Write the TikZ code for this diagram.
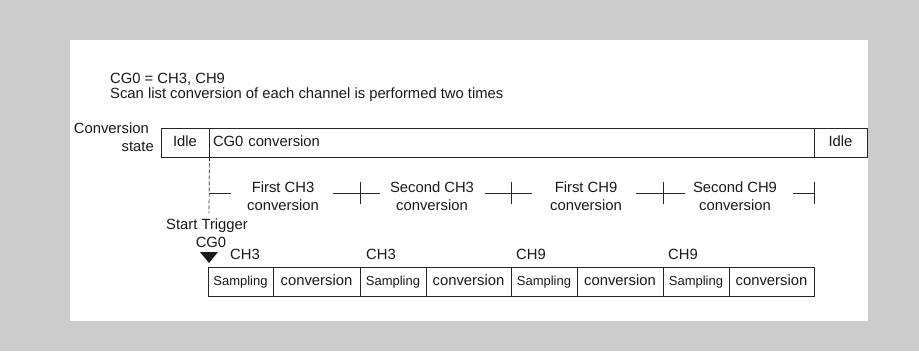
\documentclass[tikz,border=0pt]{standalone}
\usepackage{fontspec}
\setmainfont{Liberation Sans}
\begin{document}
\begin{tikzpicture}[x=1pt,y=-1pt,
  txt/.style={inner sep=0pt, text=black!90, font=\fontsize{14.8}{18}\selectfont},
  cell/.style={draw=black!85, line width=0.9pt, inner sep=0pt, minimum height=29pt,
     text height=10.5pt, text depth=3pt, text=black!90, font=\fontsize{14.8}{18}\selectfont},
  sampcell/.style={cell, font=\fontsize{13}{15}\selectfont},
  ln/.style={draw=black!85, line width=0.7pt}]
\useasboundingbox (0,0) rectangle (919,351);
\fill[gray!40] (0,0) rectangle (919,351);
\fill[white] (70,40) rectangle (868,321);
% header
\node[txt, anchor=base west] (h1) at (110,83) {CG0 = CH3, CH9};
\node[txt, anchor=base west] (h2) at (110,98) {Scan list conversion of each channel is performed two times};
% conversion state bar
\node[txt, anchor=base east] (cs1) at (149,133) {Conversion};
\node[txt, anchor=base east] (cs2) at (154,151) {state};
\node[cell, minimum width=48pt] (idleA) at (185,142.5) {Idle};
\node[cell, text width=597pt, inner xsep=4pt, align=left] (cgc) at (511.5,142.5) {CG0 conversion};
\node[cell, minimum width=53pt] (idleB) at (840.5,142.5) {Idle};
% dashed trigger line
\coordinate (dEnd) at (209,213);
\draw[draw=black!85, line width=0.7pt, dash pattern=on 4pt off 2pt] (idleA.south east) -- (dEnd);
% ticks
\coordinate (t0) at (209,193);
\coordinate (t1) at (360,193);
\coordinate (t2) at (511,193);
\coordinate (t3) at (663,193);
\coordinate (t4) at (814,193);
\foreach \t in {t1,t2,t3,t4}{
  \draw[ln] ([yshift=-11pt]\t) -- ([yshift=11pt]\t);
}
\draw[ln] (t0) -- ++(22,0);
\draw[ln] (t1) -- ++(-27,0);
\draw[ln] (t1) -- ++(20,0);
\draw[ln] (t2) -- ++(-26,0);
\draw[ln] (t2) -- ++(21,0);
\draw[ln] (t3) -- ++(-27,0);
\draw[ln] (t3) -- ++(22,0);
\draw[ln] (t4) -- ++(-21,0);
\node[txt, align=center] (c1) at (283,196) {First CH3\\conversion};
\node[txt, align=center] (c2) at (432,196) {Second CH3\\conversion};
\node[txt, align=center] (c3) at (586,196) {First CH9\\conversion};
\node[txt, align=center] (c4) at (735,196) {Second CH9\\conversion};
% start trigger
\node[txt, anchor=base] (st) at (207,229) {Start Trigger};
\node[txt, anchor=base] (cg) at (211,247) {CG0};
\coordinate (tri) at (209,252);
\fill[black!90] (tri) ++(-9,0) -- ++(18,0) -- ++(-9,11) -- cycle;
% channel labels
\node[txt, anchor=base west] (l1) at (230,259) {CH3};
\node[txt, anchor=base west] (l2) at (366,259) {CH3};
\node[txt, anchor=base west] (l3) at (516,259) {CH9};
\node[txt, anchor=base west] (l4) at (668,259) {CH9};
% bottom row
\node[sampcell, minimum width=65pt] (s1) at (240.5,282) {Sampling};
\node[cell, minimum width=87pt] (v1) at (316.5,282) {conversion};
\node[sampcell, minimum width=66pt] (s2) at (393,282) {Sampling};
\node[cell, minimum width=85pt] (v2) at (468.5,282) {conversion};
\node[sampcell, minimum width=66pt] (s3) at (544,282) {Sampling};
\node[cell, minimum width=86pt] (v3) at (620,282) {conversion};
\node[sampcell, minimum width=66pt] (s4) at (696,282) {Sampling};
\node[cell, minimum width=85pt] (v4) at (771.5,282) {conversion};
\end{tikzpicture}
\end{document}
